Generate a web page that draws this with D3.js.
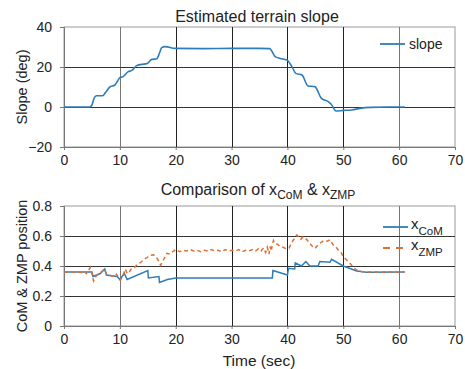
<!DOCTYPE html>
<html><head><meta charset="utf-8">
<script src="https://cdn.jsdelivr.net/npm/d3@7"></script>
<style>
html,body{margin:0;padding:0;background:#fff;}
text{font-family:"Liberation Sans",Arial,sans-serif;fill:#222;}
</style></head><body>
<svg id="c" width="465" height="369"></svg>
<script>
const xTicks = [0,10,20,30,40,50,60,70];
const slopeTicks = [-20,0,20,40];
const posTicks = [0,0.2,0.4,0.6,0.8];

const slopeT = [0,4.6,5.0,5.4,5.8,6.9,7.5,8.2,9.1,9.6,10,10.6,11.5,12.1,13,13.9,14.9,15.7,16.6,17.1,17.5,18.1,19.9,25,30,35,36.8,37.2,37.8,38.7,39.9,40.8,41.5,42.6,43.7,44.9,46.1,47.3,47.8,48.7,50,51.5,53,54.8,58,61];
const slopeV = [0,0,1,4.5,5.6,5.6,7.5,10,11,13,14.7,15.2,17.7,18.2,20.7,21.3,21.8,23.8,24.1,27,29.7,30.2,29.3,29.2,29.3,29.3,29.2,28,25.2,24.3,23.5,20.2,16.8,16,10.5,10.2,4.3,2.7,1.5,-2,-1.7,-1.5,-0.7,-0.2,0,0];

const comT = [0,5.0,5.2,6.5,7.3,7.6,8.5,9.5,10.0,10.8,11.3,15.0,15.1,17.0,17.1,18.5,20,37.3,37.4,40.0,40.2,41.3,41.4,42.5,43.3,44,45.5,45.8,47.6,47.9,50,52.4,54.2,61];
const comV = [0.36,0.36,0.33,0.35,0.38,0.34,0.335,0.33,0.31,0.35,0.31,0.37,0.32,0.33,0.29,0.31,0.32,0.32,0.37,0.34,0.385,0.38,0.42,0.40,0.43,0.40,0.40,0.43,0.425,0.445,0.40,0.367,0.358,0.36];

const zmpT = [0,2.8,3.2,3.6,4.0,4.4,4.7,5.0,5.3,5.7,6.2,6.7,7.2,7.6,8.0,8.5,9.0,9.4,9.8,10.1,10.6,11.0,11.3,11.7,12.1,12.6,13.1,13.6,14.2,14.8,15.4,16.0,16.5,17.0,17.3,17.8,18.4,19.0,19.6,20.1,20.7,21.3,22,22.6,23.2,23.8,24.5,25.1,25.8,26.4,27,27.6,28.2,28.9,29.5,30.1,30.7,31.3,31.9,32.5,33.1,33.7,34.3,34.8,35.3,35.7,36.1,36.4,36.7,36.9,37.1,37.3,37.5,37.8,38.2,38.7,39.2,39.8,40.3,40.8,41.2,41.7,42.1,42.4,42.8,43.1,43.5,44,44.5,44.9,45.5,46.1,46.6,47.1,47.6,48.2,48.7,49.1,49.6,50,50.6,51.2,51.8,52.4,53,53.6,61];
const zmpV = [0.36,0.36,0.355,0.365,0.35,0.37,0.39,0.35,0.30,0.33,0.35,0.36,0.38,0.35,0.34,0.335,0.33,0.345,0.32,0.305,0.34,0.38,0.35,0.36,0.385,0.39,0.41,0.42,0.44,0.455,0.47,0.475,0.46,0.43,0.405,0.44,0.485,0.48,0.50,0.51,0.495,0.505,0.50,0.51,0.50,0.505,0.495,0.505,0.50,0.51,0.50,0.505,0.495,0.51,0.50,0.505,0.50,0.51,0.495,0.505,0.50,0.51,0.50,0.515,0.50,0.52,0.49,0.525,0.48,0.53,0.50,0.545,0.57,0.55,0.545,0.53,0.525,0.515,0.52,0.56,0.58,0.607,0.59,0.578,0.595,0.59,0.575,0.55,0.53,0.517,0.54,0.56,0.57,0.565,0.575,0.54,0.525,0.507,0.49,0.462,0.44,0.418,0.39,0.373,0.365,0.36,0.36];

const blue = "#2f7db8", orange = "#e0702f";
const svg = d3.select("#c");
const x = d3.scaleLinear().domain([0,70]).range([64,455]);

function panel(y, ticks, fmt, ylabel, ylabelY) {
  const g = svg.append("g");
  const [yb, yt] = y.range();
  g.append("rect").attr("x",64).attr("y",yt).attr("width",391).attr("height",yb-yt)
    .attr("fill","none").attr("stroke","#999").attr("stroke-width",1);
  g.selectAll(".vg").data(xTicks.slice(1,-1)).join("line")
    .attr("x1",d=>Math.round(x(d))+0.5).attr("x2",d=>Math.round(x(d))+0.5)
    .attr("y1",yt).attr("y2",yb)
    .attr("stroke",d=>(d===10||d===60)?"#777":"#222").attr("stroke-width",1);
  g.selectAll(".hg").data(ticks.slice(1,-1)).join("line")
    .attr("x1",64).attr("x2",455)
    .attr("y1",d=>Math.round(y(d))+0.5).attr("y2",d=>Math.round(y(d))+0.5)
    .attr("stroke","#333").attr("stroke-width",1);
  const ya = g.append("g").attr("transform","translate(64,0)")
    .call(d3.axisLeft(y).tickValues(ticks).tickFormat(fmt).tickSize(4).tickPadding(8));
  ya.select(".domain").attr("stroke","#777");
  ya.selectAll("line").attr("stroke","#777");
  ya.selectAll("text").attr("font-size",14).attr("fill","#222").attr("font-family",'"Liberation Sans",Arial,sans-serif');
  const xa = g.append("g").attr("transform",`translate(0,${yb})`)
    .call(d3.axisBottom(x).tickValues(xTicks).tickFormat(d3.format("d")).tickSize(3).tickPadding(5));
  xa.select(".domain").attr("stroke","#777");
  xa.selectAll("line").attr("stroke","#777");
  xa.selectAll("text").attr("font-size",14).attr("fill","#222").attr("font-family",'"Liberation Sans",Arial,sans-serif');
  svg.append("text").attr("transform",`translate(27,${ylabelY}) rotate(-90)`)
    .attr("text-anchor","middle").attr("font-size",14.5).text(ylabel);
  return g;
}

const y1 = d3.scaleLinear().domain([-20,40]).range([147,27]);
const g1 = panel(y1, slopeTicks, d3.format("d"), "Slope (deg)", 87);
g1.append("path").datum(slopeT.map((t,i)=>[t,slopeV[i]]))
  .attr("fill","none").attr("stroke",blue).attr("stroke-width",1.6)
  .attr("d", d3.line().x(d=>x(d[0])).y(d=>y1(d[1])).curve(d3.curveMonotoneX));
svg.append("text").attr("x",257).attr("y",22).attr("text-anchor","middle").attr("font-size",16).text("Estimated terrain slope");
svg.append("line").attr("x1",380).attr("x2",405).attr("y1",44).attr("y2",44).attr("stroke",blue).attr("stroke-width",1.8);
svg.append("text").attr("x",409).attr("y",49).attr("font-size",14).text("slope");

const y2 = d3.scaleLinear().domain([0,0.8]).range([326,206]);
const g2 = panel(y2, posTicks, d => d===0 ? "0" : d3.format(".1f")(d), "CoM & ZMP position", 266);
const ln = d3.line().x(d=>x(d[0])).y(d=>y2(d[1]));
g2.append("path").datum(comT.map((t,i)=>[t,comV[i]]))
  .attr("fill","none").attr("stroke",blue).attr("stroke-width",1.5).attr("d", ln);
g2.append("path").datum(zmpT.map((t,i)=>[t,zmpV[i]]))
  .attr("fill","none").attr("stroke",orange).attr("stroke-width",1.5).attr("stroke-dasharray","4,3").attr("d", ln);

const t2 = svg.append("text").attr("x",258).attr("y",195).attr("text-anchor","middle").attr("font-size",16);
t2.append("tspan").text("Comparison of x");
t2.append("tspan").attr("dy",4).attr("font-size",12).text("CoM");
t2.append("tspan").attr("dy",-4).text(" & x");
t2.append("tspan").attr("dy",4).attr("font-size",12).text("ZMP");

svg.append("line").attr("x1",383).attr("x2",408).attr("y1",227).attr("y2",227).attr("stroke",blue).attr("stroke-width",1.8);
const l1 = svg.append("text").attr("x",411).attr("y",229).attr("font-size",15);
l1.append("tspan").text("x");
l1.append("tspan").attr("dy",6).attr("font-size",11.5).text("CoM");
svg.append("line").attr("x1",383).attr("x2",408).attr("y1",248).attr("y2",248).attr("stroke",orange).attr("stroke-width",1.8).attr("stroke-dasharray","7,6");
const l2 = svg.append("text").attr("x",411).attr("y",250).attr("font-size",15);
l2.append("tspan").text("x");
l2.append("tspan").attr("dy",6).attr("font-size",11.5).text("ZMP");

svg.append("text").attr("x",259).attr("y",366).attr("text-anchor","middle").attr("font-size",15.5).text("Time (sec)");
</script></body></html>
